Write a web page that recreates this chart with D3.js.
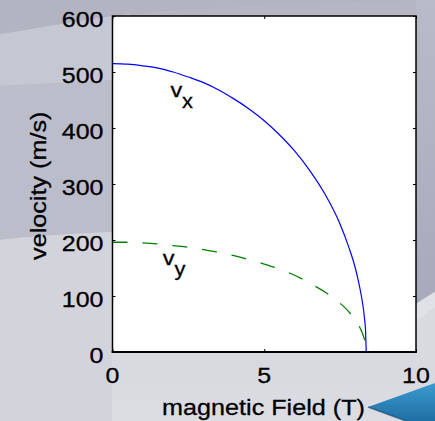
<!DOCTYPE html>
<html>
<head>
<meta charset="utf-8">
<script src="https://cdn.jsdelivr.net/npm/d3@7/dist/d3.min.js"></script>
<style>
  html, body { margin: 0; padding: 0; overflow: hidden; background: #c4c6d1; }
  svg { display: block; }
  text { font-family: "Liberation Sans", Arial, Helvetica, sans-serif; fill: #000; stroke: #000; stroke-width: 0.3px; }
</style>
</head>
<body>
<svg id="chart" width="435" height="421"></svg>
<script>
// Magnetic field (T) sample points
const fieldT = [0, 0.5, 1, 1.5, 2, 2.5, 3, 3.5, 4, 4.5, 5, 5.5, 6, 6.5, 7, 7.5, 7.8, 8, 8.1, 8.2, 8.3, 8.34, 8.36];
// Velocity components (m/s) at each field value
const vxValues = [515, 514, 511, 507, 500, 491, 481, 468, 452, 434, 413, 388, 359, 324, 282, 228, 185, 150, 127, 100, 62, 36, 0];
const vyValues = [196, 196, 195, 193, 190, 187, 183, 178, 172, 165, 157, 148, 137, 123, 107, 87, 71, 57, 49, 38, 23, 14, 0];
// Axis ticks
const xTickValues = [0, 5, 10];
const yTickValues = [0, 100, 200, 300, 400, 500, 600];
const xLabel = "magnetic Field (T)";
const yLabel = "velocity (m/s)";

const svg = d3.select("#chart");
const W = 435, H = 421;
const plot = { left: 112.5, right: 416, top: 16, bottom: 352 };
const STRETCH = 1.12;   // wide lettering

// ---------- backdrop ----------
const defs = svg.append("defs");
const bg = defs.append("linearGradient").attr("id", "bg").attr("x1", 0).attr("y1", 0).attr("x2", 0).attr("y2", 1);
bg.append("stop").attr("offset", 0).attr("stop-color", "#b4b6c4");
bg.append("stop").attr("offset", 0.5).attr("stop-color", "#bfc1cd");
bg.append("stop").attr("offset", 0.62).attr("stop-color", "#d2d3db");
bg.append("stop").attr("offset", 1).attr("stop-color", "#dcdde2");
svg.append("rect").attr("width", W).attr("height", H).attr("fill", "url(#bg)");

const rightShade = defs.append("linearGradient").attr("id", "rs").attr("x1", 0).attr("y1", 0).attr("x2", 0).attr("y2", 1);
rightShade.append("stop").attr("offset", 0).attr("stop-color", "#b9bbc8");
rightShade.append("stop").attr("offset", 1).attr("stop-color", "#a6aabb");

// soft bands in the backdrop
svg.append("path")
  .attr("d", "M0,34 C40,28 80,20 130,14 C220,6 330,2 435,0 L435,0 L0,0 Z")
  .attr("fill", "#b2b4c2");
svg.append("path")
  .attr("d", "M0,34 C40,28 80,20 130,14 L130,80 C80,82 40,84 0,86 Z")
  .attr("fill", "#c7c9d3").attr("opacity", 0.9);
svg.append("path")
  .attr("d", "M0,86 C40,84 80,82 112,80 L112,232 C70,234 35,236 0,240 Z")
  .attr("fill", "#bbbdca");
svg.append("path")
  .attr("d", "M0,240 C35,236 70,234 112,232 L112,421 L0,421 Z")
  .attr("fill", "#d3d4db");
svg.append("path")
  .attr("d", "M416,0 L435,0 L435,292 C428,296 422,300 416,304 Z")
  .attr("fill", "url(#rs)");
svg.append("path")
  .attr("d", "M416,304 C422,300 428,296 435,292 L435,308 C428,312 422,318 416,322 Z")
  .attr("fill", "#e0e1e7");
svg.append("path")
  .attr("d", "M416,322 C422,318 428,312 435,308 L435,421 L416,421 Z")
  .attr("fill", "#d9dae0");

// blue pointer in the corner
const arrowGrad = defs.append("linearGradient").attr("id", "arrow").attr("x1", 0).attr("y1", 0).attr("x2", 0).attr("y2", 1);
arrowGrad.append("stop").attr("offset", 0).attr("stop-color", "#3b9bd0");
arrowGrad.append("stop").attr("offset", 1).attr("stop-color", "#1f6fa3");
svg.append("path")
  .attr("d", "M368,407 L435,383 L435,421 L406,421 Z")
  .attr("fill", "url(#arrow)");
svg.append("path")
  .attr("d", "M368,407 L406,421")
  .attr("stroke", "#1a4f77").attr("stroke-width", 1.5).attr("fill", "none").attr("opacity", 0.7);

// ---------- scales ----------
const x = d3.scaleLinear().domain([0, 10]).range([plot.left, plot.right]);
const y = d3.scaleLinear().domain([0, 600]).range([plot.bottom, plot.top]);

// plot area
svg.append("rect")
  .attr("x", plot.left).attr("y", plot.top)
  .attr("width", plot.right - plot.left).attr("height", plot.bottom - plot.top)
  .attr("fill", "#fff");

// ---------- curves ----------
const vxPts = fieldT.map((b, i) => [b, vxValues[i]]);
const vyPts = fieldT.map((b, i) => [b, vyValues[i]]);
const line = d3.line().x(d => x(d[0])).y(d => y(d[1])).curve(d3.curveMonotoneX);

svg.append("path").datum(vyPts)
  .attr("d", line).attr("fill", "none")
  .attr("stroke", "#008000").attr("stroke-width", 1.3)
  .attr("stroke-dasharray", "15,15");
svg.append("path").datum(vxPts)
  .attr("d", line).attr("fill", "none")
  .attr("stroke", "#0000ff").attr("stroke-width", 1.2);

// ---------- axes (ticks point inward on all four sides) ----------
const tickLen = 3;
const fmt = d3.format("d");
const axisBottom = d3.axisBottom(x).tickValues(xTickValues).tickSizeInner(-tickLen).tickSizeOuter(0).tickFormat("");
const axisTop = d3.axisTop(x).tickValues(xTickValues).tickSizeInner(-tickLen).tickSizeOuter(0).tickFormat("");
const axisLeft = d3.axisLeft(y).tickValues(yTickValues).tickSizeInner(-tickLen).tickSizeOuter(0).tickFormat("");
const axisRight = d3.axisRight(y).tickValues(yTickValues).tickSizeInner(-tickLen).tickSizeOuter(0).tickFormat("");

function styleAxis(g) {
  g.select(".domain").remove();
  g.selectAll(".tick line").attr("stroke", "#000").attr("stroke-width", 1);
}
svg.append("g").attr("transform", `translate(0,${plot.bottom})`).call(axisBottom).call(styleAxis);
svg.append("g").attr("transform", `translate(0,${plot.top})`).call(axisTop).call(styleAxis);
svg.append("g").attr("transform", `translate(${plot.left},0)`).call(axisLeft).call(styleAxis);
svg.append("g").attr("transform", `translate(${plot.right},0)`).call(axisRight).call(styleAxis);

// box
svg.append("rect")
  .attr("x", plot.left).attr("y", plot.top)
  .attr("width", plot.right - plot.left).attr("height", plot.bottom - plot.top)
  .attr("fill", "none").attr("stroke", "#000").attr("stroke-width", 1.5);
svg.append("line")
  .attr("x1", plot.left - 0.75).attr("x2", plot.right + 0.75)
  .attr("y1", plot.bottom).attr("y2", plot.bottom)
  .attr("stroke", "#000").attr("stroke-width", 2);

// ---------- labels ----------
function stretchedText(px, py, str, size, anchor, rotate) {
  const g = svg.append("g")
    .attr("transform", `translate(${px},${py})` + (rotate ? ` rotate(${rotate})` : "") + ` scale(${STRETCH},1)`);
  g.append("text").attr("x", 0).attr("y", 0)
    .attr("font-size", size).attr("text-anchor", anchor).text(str);
  return g;
}

yTickValues.forEach(v => stretchedText(103.5, y(v) + 10.8, fmt(v), 22.3, "end"));
xTickValues.forEach(v => stretchedText(x(v), 383.3, fmt(v), 22.3, "middle"));

stretchedText(263.5, 415, xLabel, 22.5, "middle");
stretchedText(45.5, 185.8, yLabel, 22.5, "middle", -90);

// series names with subscripts
function seriesLabel(px, py, sub, subDx, subDy) {
  stretchedText(px, py, "v", 21, "start");
  stretchedText(px + subDx, py + subDy, sub, 19.5, "start");
}
seriesLabel(170.5, 96.7, "x", 11.5, 11);
seriesLabel(162.8, 265, "y", 11.8, 11);
</script>
</body>
</html>
